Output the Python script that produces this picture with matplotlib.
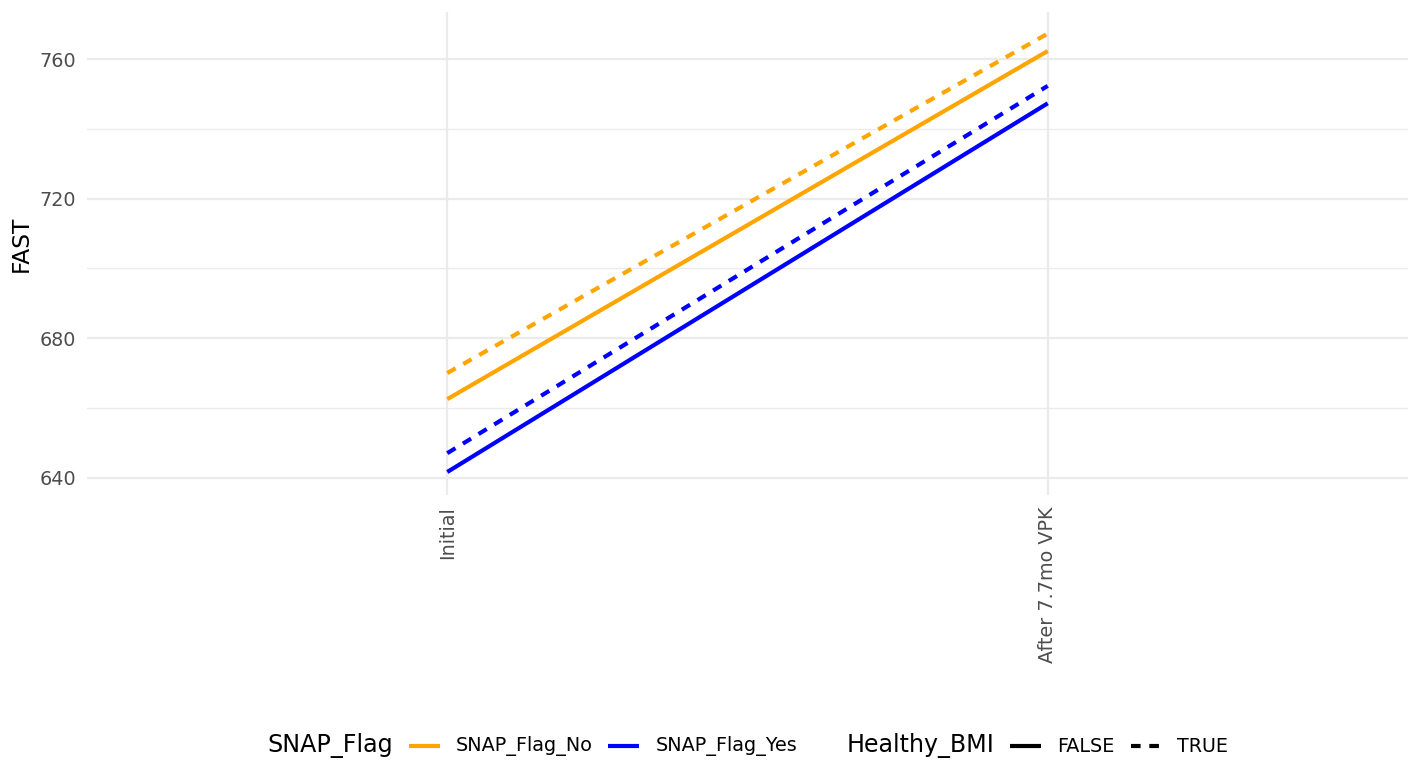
import matplotlib
matplotlib.use("Agg")
import matplotlib.pyplot as plt
from matplotlib.lines import Line2D
from matplotlib.offsetbox import TextArea, DrawingArea, HPacker, AnchoredOffsetbox

plt.rcParams['font.family'] = ['DejaVu Sans']

# ---- data ----
time_points = ["Initial", "After 7.7mo VPK"]
snap_levels = ["SNAP_Flag_No", "SNAP_Flag_Yes"]
bmi_levels = ["FALSE", "TRUE"]
no_false = [662.5, 762.4]
no_true = [670.0, 767.4]
yes_false = [641.6, 747.4]
yes_true = [647.0, 752.4]
y_ticks = [640, 680, 720, 760]
y_minor = [660, 700, 740]

snap_colors = {"SNAP_Flag_No": "#FFA500", "SNAP_Flag_Yes": "#0000FF"}
dash_style = (0, (2.3, 2.1))
bmi_styles = {"FALSE": "-", "TRUE": dash_style}
series = [
    ("SNAP_Flag_No", "FALSE", no_false),
    ("SNAP_Flag_No", "TRUE", no_true),
    ("SNAP_Flag_Yes", "FALSE", yes_false),
    ("SNAP_Flag_Yes", "TRUE", yes_true),
]
LW = 3.0

fig = plt.figure(figsize=(14.21, 7.64), dpi=100)
ax = fig.add_axes([87/1421, 1-495/764, (1408-87)/1421, (495-12)/764])

xpos = list(range(len(time_points)))
for snap, bmi, vals in series:
    ax.plot(xpos, vals, color=snap_colors[snap], linestyle=bmi_styles[bmi],
            linewidth=LW, solid_capstyle='butt', dash_capstyle='butt', zorder=3)

ax.set_xlim(-0.6, 1.6)
ax.set_ylim(635.0, 773.6)
ax.set_xticks(xpos)
ax.set_xticklabels(time_points, rotation=90, fontsize=13.8, color='#4D4D4D')
ax.set_yticks(y_ticks)
ax.set_yticklabels([str(v) for v in y_ticks], fontsize=13.8, color='#4D4D4D')
ax.set_yticks(y_minor, minor=True)
ax.tick_params(axis='both', which='both', length=0)
ax.tick_params(axis='y', pad=8)
ax.tick_params(axis='x', pad=8)

ax.grid(True, which='major', color='#EBEBEB', linewidth=1.6, zorder=0)
ax.grid(True, which='minor', axis='y', color='#EBEBEB', linewidth=1.0, zorder=0)
ax.set_axisbelow(True)
for s in ax.spines.values():
    s.set_visible(False)

ax.set_ylabel("FAST", fontsize=16.8, color='black')
ax.yaxis.set_label_coords(-0.041, 0.52)

# ---- legend (ggplot style, horizontal at bottom) ----
key_w = 22.3
key_h = 10

def key(color, ls):
    da = DrawingArea(key_w, key_h, 0, 0)
    da.add_artist(Line2D([0, key_w], [key_h/2, key_h/2], color=color,
                         linestyle=ls, linewidth=LW, solid_capstyle='butt',
                         dash_capstyle='butt'))
    return da

title_props = dict(fontsize=17.1, color='black')
label_props = dict(fontsize=13.8, color='black')

children = [TextArea("SNAP_Flag", textprops=title_props)]
for lvl in snap_levels:
    children.append(key(snap_colors[lvl], '-'))
    children.append(TextArea(lvl, textprops=label_props))
children.append(DrawingArea(12.5, 1, 0, 0))
children.append(TextArea("Healthy_BMI", textprops=title_props))
for lvl in bmi_levels:
    children.append(key('black', bmi_styles[lvl]))
    children.append(TextArea(lvl, textprops=label_props))

box = HPacker(children=children, align='center', pad=0, sep=11.5)
anchored = AnchoredOffsetbox(loc='center left', child=box, pad=0, borderpad=0,
                             frameon=False,
                             bbox_to_anchor=(267/1421, 1-746/764),
                             bbox_transform=fig.transFigure)
fig.add_artist(anchored)

fig.savefig("out.png", dpi=100, facecolor='white')
